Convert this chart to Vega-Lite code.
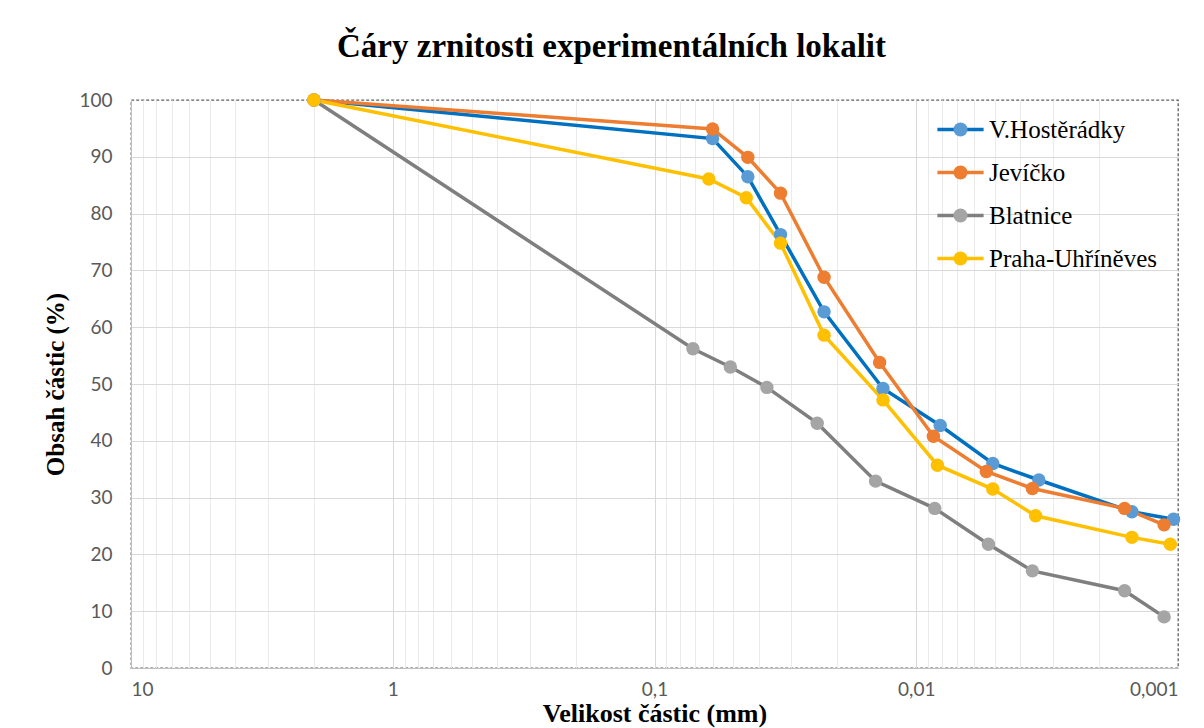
{
  "$schema": "https://vega.github.io/schema/vega-lite/v6.json",
  "width": 1047,
  "height": 568,
  "autosize": {"type": "none"},
  "padding": {"left": 131, "top": 100, "right": 26, "bottom": 60},
  "background": "white",
  "title": {
    "text": "Čáry zrnitosti experimentálních lokalit",
    "font": "Liberation Serif",
    "fontSize": 33,
    "fontWeight": "bold",
    "color": "#000000",
    "anchor": "middle",
    "dx": -43,
    "offset": 27
  },
  "config": {
    "view": {"stroke": "#5f5f5f", "strokeDash": [3, 2], "strokeWidth": 1.3}
  },
  "data": {
    "values": [
      {"site": "V.Hostěrádky", "d": 2, "p": 100},
      {"site": "V.Hostěrádky", "d": 0.06, "p": 93.2},
      {"site": "V.Hostěrádky", "d": 0.044, "p": 86.5},
      {"site": "V.Hostěrádky", "d": 0.033, "p": 76.3},
      {"site": "V.Hostěrádky", "d": 0.0225, "p": 62.7},
      {"site": "V.Hostěrádky", "d": 0.0134, "p": 49.2},
      {"site": "V.Hostěrádky", "d": 0.0081, "p": 42.7},
      {"site": "V.Hostěrádky", "d": 0.0051, "p": 36.0},
      {"site": "V.Hostěrádky", "d": 0.0034, "p": 33.1},
      {"site": "V.Hostěrádky", "d": 0.0015, "p": 27.5},
      {"site": "V.Hostěrádky", "d": 0.00104, "p": 26.2},
      {"site": "Jevíčko", "d": 2, "p": 100},
      {"site": "Jevíčko", "d": 0.06, "p": 94.9},
      {"site": "Jevíčko", "d": 0.044, "p": 89.9},
      {"site": "Jevíčko", "d": 0.033, "p": 83.6},
      {"site": "Jevíčko", "d": 0.0225, "p": 68.8},
      {"site": "Jevíčko", "d": 0.0138, "p": 53.8},
      {"site": "Jevíčko", "d": 0.0086, "p": 40.8},
      {"site": "Jevíčko", "d": 0.0054, "p": 34.6},
      {"site": "Jevíčko", "d": 0.0036, "p": 31.6},
      {"site": "Jevíčko", "d": 0.0016, "p": 28.1},
      {"site": "Jevíčko", "d": 0.00113, "p": 25.2},
      {"site": "Blatnice", "d": 2, "p": 100},
      {"site": "Blatnice", "d": 0.0713, "p": 56.2},
      {"site": "Blatnice", "d": 0.0513, "p": 53.0},
      {"site": "Blatnice", "d": 0.0372, "p": 49.4},
      {"site": "Blatnice", "d": 0.0239, "p": 43.1},
      {"site": "Blatnice", "d": 0.0143, "p": 32.9},
      {"site": "Blatnice", "d": 0.0085, "p": 28.1},
      {"site": "Blatnice", "d": 0.0053, "p": 21.8},
      {"site": "Blatnice", "d": 0.0036, "p": 17.1},
      {"site": "Blatnice", "d": 0.0016, "p": 13.6},
      {"site": "Blatnice", "d": 0.00113, "p": 9.0},
      {"site": "Praha-Uhříněves", "d": 2, "p": 100},
      {"site": "Praha-Uhříněves", "d": 0.062, "p": 86.1},
      {"site": "Praha-Uhříněves", "d": 0.0446, "p": 82.8},
      {"site": "Praha-Uhříněves", "d": 0.033, "p": 74.8},
      {"site": "Praha-Uhříněves", "d": 0.0225, "p": 58.6},
      {"site": "Praha-Uhříněves", "d": 0.0134, "p": 47.2},
      {"site": "Praha-Uhříněves", "d": 0.0083, "p": 35.7},
      {"site": "Praha-Uhříněves", "d": 0.0051, "p": 31.5},
      {"site": "Praha-Uhříněves", "d": 0.0035, "p": 26.8},
      {"site": "Praha-Uhříněves", "d": 0.0015, "p": 23.0},
      {"site": "Praha-Uhříněves", "d": 0.00107, "p": 21.8}
    ]
  },
  "encoding": {
    "x": {
      "field": "d",
      "type": "quantitative",
      "title": "Velikost částic (mm)",
      "scale": {"type": "log", "domain": [0.001, 10], "reverse": true, "nice": false},
      "axis": {
        "values": [10, 9, 8, 7, 6, 5, 4, 3, 2, 1, 0.9, 0.8, 0.7, 0.6, 0.5, 0.4, 0.3, 0.2, 0.1, 0.09, 0.08, 0.07, 0.06, 0.05, 0.04, 0.03, 0.02, 0.01, 0.009, 0.008, 0.007, 0.006, 0.005, 0.004, 0.003, 0.002, 0.001],
        "labelExpr": "indexof([10, 1, 0.1, 0.01, 0.001], datum.value) >= 0 ? replace(format(datum.value, '~g'), '.', ',') : ''",
        "labelOverlap": false,
        "labelFont": "Lato",
        "labelFontSize": 19,
        "labelColor": "#595959",
        "labelPadding": 12,
        "ticks": false,
        "domainColor": "#bfbfbf",
        "grid": true,
        "gridColor": {"condition": {"test": "indexof([10, 1, 0.1, 0.01], datum.value) >= 0", "value": "#d9d9d9"}, "value": "#ebebeb"},
        "gridOpacity": {"condition": {"test": "datum.value < 0.0011", "value": 0}, "value": 1},
        "titleFont": "Liberation Serif",
        "titleFontSize": 26,
        "titleFontWeight": "bold",
        "titleColor": "#000000",
        "titlePadding": 1
      }
    },
    "y": {
      "field": "p",
      "type": "quantitative",
      "title": "Obsah částic (%)",
      "scale": {"domain": [0, 100], "nice": false},
      "axis": {
        "values": [0, 10, 20, 30, 40, 50, 60, 70, 80, 90, 100],
        "labelFont": "Lato",
        "labelFontSize": 19,
        "labelColor": "#595959",
        "labelPadding": 19,
        "ticks": false,
        "domainColor": "#bfbfbf",
        "grid": true,
        "gridColor": "#d9d9d9",
        "gridOpacity": {"condition": {"test": "datum.value == 100", "value": 0}, "value": 1},
        "titleFont": "Liberation Serif",
        "titleFontSize": 25,
        "titleFontWeight": "bold",
        "titleColor": "#000000",
        "titlePadding": 10
      }
    }
  },
  "layer": [
    {
      "mark": {"type": "line", "strokeWidth": 3.5},
      "encoding": {
        "stroke": {
          "field": "site",
          "type": "nominal",
          "scale": {
            "domain": ["V.Hostěrádky", "Jevíčko", "Blatnice", "Praha-Uhříněves"],
            "range": ["#0070c0", "#ed7d31", "#7f7f7f", "#ffc000"]
          },
          "legend": {
            "orient": "none",
            "legendX": 817,
            "legendY": 17,
            "title": null,
            "padding": 0,
            "symbolType": "M-3.3,0H3.3",
            "symbolSize": 196,
            "symbolStrokeWidth": 3.5,
            "labelFont": "Liberation Serif",
            "labelFontSize": 25,
            "labelColor": "#000000",
            "labelLimit": 0,
            "labelOffset": 16,
            "rowPadding": 17,
            "zindex": 0
          }
        }
      }
    },
    {
      "mark": {"type": "point", "filled": true, "opacity": 1, "size": 180, "strokeWidth": 0},
      "encoding": {
        "fill": {
          "field": "site",
          "type": "nominal",
          "sort": null,
          "scale": {"range": ["#5b9bd5", "#ed7d31", "#a5a5a5", "#ffc000"]},
          "legend": {
            "orient": "none",
            "legendX": 817,
            "legendY": 17,
            "title": null,
            "padding": 0,
            "symbolType": "circle",
            "symbolSize": 196,
            "symbolStrokeWidth": 0,
            "labelFont": "Liberation Serif",
            "labelFontSize": 25,
            "labelOpacity": 0,
            "labelLimit": 0,
            "labelOffset": 16,
            "rowPadding": 17,
            "zindex": 2
          }
        }
      }
    }
  ]
}
